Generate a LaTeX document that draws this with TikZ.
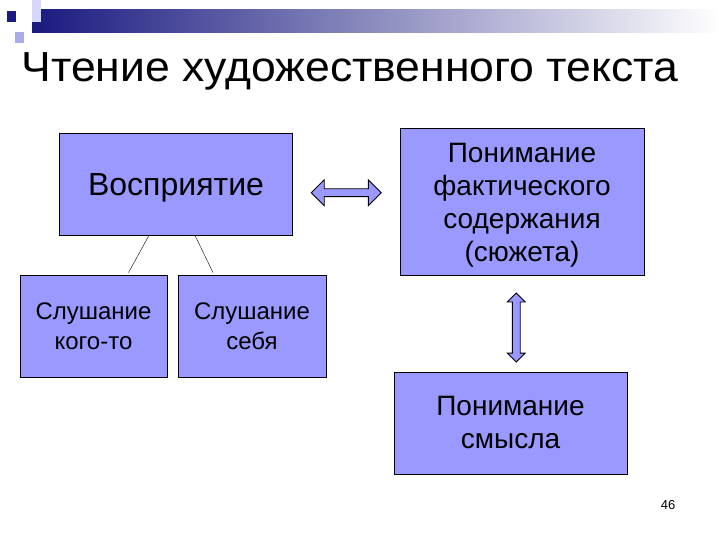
\documentclass[tikz,border=0pt]{standalone}
\usepackage{fontspec}
\setmainfont{Liberation Sans}
\newfontfamily\titlefont[FakeStretch=1.06]{Liberation Sans}
\usetikzlibrary{calc,shapes.arrows}
\definecolor{boxblue}{RGB}{153,153,255}
\definecolor{navy}{RGB}{26,26,128}
\begin{document}
\begin{tikzpicture}[x=1pt,y=-1pt,
    box/.style={draw=black,line width=0.8pt,fill=boxblue,inner sep=0pt,align=center},
    bigtext/.style={font=\fontsize{28}{33}\selectfont},
    smalltext/.style={font=\fontsize{24}{30}\selectfont},
    darrow/.style={double arrow,draw=black,line width=0.8pt,fill=boxblue,inner sep=0pt,
      text height=7pt,text depth=0pt,double arrow head extend=9pt,double arrow head indent=0pt}]
\useasboundingbox[fill=white] (0,0) rectangle (720,540);
\shade[left color=navy,right color=white] (32,10) rectangle (720,33);
\fill[navy] (7,11) rectangle (16,22);
\fill[boxblue!70!navy!60] (15,32) rectangle (24,43);
\fill[boxblue!40] (32,0) rectangle (41,22);
\node[anchor=base,font=\titlefont\fontsize{42}{48}\selectfont] (title) at (350,82) {Чтение художественного текста};
\node[box,font=\fontsize{32}{36}\selectfont,minimum width=233pt,minimum height=102pt] (perc) at (176,184) {\raisebox{0pt}[\dimexpr\height+8pt][\depth]{Восприятие}};
\node[box,bigtext,minimum width=244pt,minimum height=147pt] (plot) at (522,201.5) {\raisebox{0pt}[\dimexpr\height+8pt][\depth]{Понимание}\\фактического\\содержания\\(сюжета)};
\node[box,smalltext,minimum width=147pt,minimum height=102pt] (selfa) at (93.5,326) {Слушание\\кого-то};
\node[box,smalltext,minimum width=148pt,minimum height=102pt] (selfb) at (252,326) {Слушание\\себя};
\node[box,bigtext,minimum width=233pt,minimum height=102pt] (sense) at (510.5,423) {Понимание\\смысла};
\node[darrow,minimum height=70pt] (harrow) at ($(perc.east)!0.5!(plot.west)$) {};
\node[darrow,minimum height=69pt,double arrow head extend=5pt,rotate=90] (varrow) at ($(plot.south)!0.5!(sense.north)+(0,4)$) {};
\draw ($(perc.south)+(-27,0)$) -- ($(selfa.north)+(35,-2)$);
\draw ($(perc.south)+(19,0)$) -- ($(selfb.north)+(-39,-2)$);
\node[font=\fontsize{13}{15}\selectfont] (page) at (668,505) {46};
\end{tikzpicture}
\end{document}
